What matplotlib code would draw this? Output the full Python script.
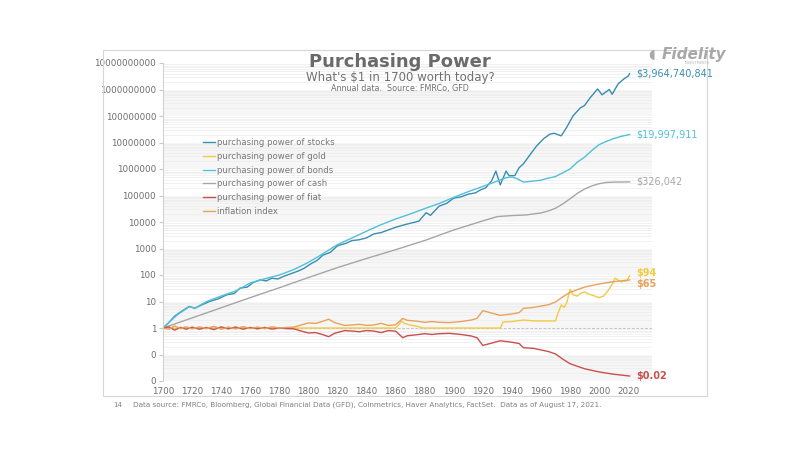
import matplotlib
matplotlib.use('Agg')
import matplotlib.pyplot as plt
from matplotlib.patches import Rectangle

# values (growth of $1 invested in 1700)
stocks_years = [1700, 1704, 1708, 1712, 1718, 1722, 1727, 1732, 1738, 1744, 1749, 1753,
                1758, 1762, 1767, 1771, 1775, 1779, 1783, 1788, 1793, 1797, 1801, 1806,
                1810, 1815, 1820, 1826, 1830, 1835, 1840, 1845, 1850, 1855, 1860, 1865,
                1870, 1876, 1881, 1884, 1890, 1895, 1900, 1905, 1910, 1915, 1918, 1922,
                1926, 1929, 1932, 1936, 1938, 1942, 1945, 1948, 1952, 1957, 1962, 1966,
                1969, 1974, 1978, 1982, 1987, 1990, 1994, 1999, 2002, 2007, 2009, 2013,
                2017, 2020, 2021]
stocks = [1, 1.6, 2.8, 4, 6.5, 5.6, 7.6, 10, 12.6, 18, 20, 32,
          35, 52, 66, 60, 76, 71, 89, 112, 141, 178, 251, 355,
          562, 708, 1259, 1585, 1995, 2138, 2512, 3548, 3981, 5012, 6310, 7586,
          8913, 10715, 22387, 17783, 39811, 50119, 79433, 89125, 112202, 125893, 158489, 194984,
          354813, 831764, 251189, 831764, 562341, 562341, 1122018, 1584893, 3162278, 7413102, 14125375, 20417379,
          22387211, 17782794, 39810717, 1.0e8, 2.0e8, 2.5e8, 5.0e8, 1.05e9, 6.3e8, 1.0e9, 6.6e8, 1.6e9,
          2.5e9, 3.2e9, 3964740841]

bonds_years = [1700, 1705, 1710, 1718, 1722, 1730, 1740, 1750, 1755, 1760, 1770, 1780,
               1790, 1800, 1810, 1820, 1830, 1840, 1850, 1860, 1870, 1880, 1890, 1900,
               1910, 1920, 1930, 1936, 1940, 1944, 1948, 1955, 1960, 1965, 1970, 1975,
               1980, 1985, 1990, 1995, 2000, 2005, 2010, 2015, 2021]
bonds = [1, 1.8, 3.2, 6.3, 5.6, 10, 16, 25, 35, 50, 72, 100,
         160, 300, 630, 1400, 2500, 4500, 7900, 13000, 20000, 32000, 50000, 85000,
         140000, 220000, 350000, 470000, 500000, 420000, 320000, 350000, 380000, 450000, 520000, 720000,
         1000000, 1800000, 2800000, 5000000, 8300000, 11000000, 14000000, 17000000, 19997911]

cash_years = [1700, 1720, 1740, 1760, 1780, 1800, 1820, 1840, 1860, 1880, 1900, 1920,
              1930, 1940, 1950, 1960, 1965, 1970, 1975, 1980, 1985, 1990, 1995, 2000,
              2005, 2010, 2015, 2021]
cash = [1, 2.4, 5.8, 14, 33, 80, 190, 420, 900, 2000, 5000, 11000,
        16000, 17500, 18500, 22000, 26000, 33000, 48000, 75000, 120000, 175000, 230000, 280000,
        310000, 320000, 322000, 326042]

gold_years = [1700, 1705, 1710, 1715, 1720, 1725, 1730, 1735, 1740, 1745, 1750, 1755,
              1760, 1765, 1770, 1775, 1780, 1860, 1862, 1864, 1866, 1870, 1875, 1879,
              1932, 1934, 1940, 1948, 1955, 1962, 1970, 1972, 1974, 1976, 1978, 1980,
              1982, 1985, 1987, 1990, 1993, 1997, 2000, 2003, 2006, 2009, 2011, 2013,
              2015, 2017, 2019, 2021]
gold = [1.0, 1.05, 0.95, 1.08, 0.97, 1.05, 0.95, 1.1, 0.95, 1.05, 0.97, 1.08,
        0.98, 1.05, 0.97, 1.08, 1.0, 1.0, 1.3, 1.8, 1.5, 1.3, 1.15, 1.0,
        1.0, 1.7, 1.75, 2.0, 1.85, 1.85, 1.85, 4.0, 7.4, 6.0, 10, 29,
        18, 16, 20, 23, 19, 16, 14, 16, 25, 45, 76, 65,
        55, 58, 60, 94]

infl_years = [1700, 1704, 1708, 1712, 1716, 1720, 1725, 1730, 1735, 1740, 1745, 1750,
              1755, 1760, 1765, 1770, 1775, 1780, 1785, 1790, 1795, 1800, 1805, 1810,
              1814, 1818, 1825, 1830, 1835, 1840, 1845, 1850, 1855, 1860, 1865, 1868,
              1875, 1880, 1885, 1890, 1897, 1905, 1912, 1916, 1920, 1925, 1932, 1940,
              1945, 1948, 1955, 1965, 1970, 1975, 1980, 1985, 1990, 2000, 2010, 2021]
inflation = [1.0, 0.9, 1.2, 0.95, 1.1, 0.93, 1.1, 0.95, 1.15, 0.9, 1.08, 0.92,
             1.12, 0.95, 1.08, 0.95, 1.1, 1.0, 1.05, 1.08, 1.3, 1.55, 1.5, 1.8,
             2.15, 1.6, 1.25, 1.3, 1.38, 1.25, 1.3, 1.5, 1.25, 1.32, 2.3, 1.95,
             1.8, 1.65, 1.75, 1.65, 1.6, 1.75, 2.0, 2.3, 4.5, 3.8, 3.0, 3.4,
             3.8, 5.5, 6.0, 7.5, 9.5, 15, 22, 28, 35, 46, 56, 65]
fiat = [1.0, 1.1, 0.83, 1.05, 0.9, 1.08, 0.9, 1.05, 0.87, 1.1, 0.93, 1.09,
        0.9, 1.05, 0.93, 1.05, 0.91, 1.0, 0.95, 0.93, 0.77, 0.65, 0.67, 0.56,
        0.47, 0.63, 0.8, 0.77, 0.72, 0.8, 0.77, 0.67, 0.8, 0.76, 0.43, 0.51,
        0.56, 0.61, 0.57, 0.61, 0.63, 0.57, 0.5, 0.43, 0.22, 0.26, 0.33, 0.29,
        0.26, 0.18, 0.17, 0.13, 0.105, 0.067, 0.045, 0.036, 0.029, 0.022, 0.018, 0.0154]

end_labels = ['$3,964,740,841', '$19,997,911', '$326,042', '$94', '$65', '$0.02']

c_stocks = '#3a8db0'
c_gold = '#f1cb45'
c_bonds = '#50c0d8'
c_cash = '#a6a6a6'
c_fiat = '#c9504f'
c_infl = '#e9a25c'

fig = plt.figure(figsize=(8.1, 4.5), dpi=100)
fig.patches.append(Rectangle((103/810, 1-396/450), 604/810, 346/450, transform=fig.transFigure,
                             fill=False, edgecolor='#d6d6d6', lw=0.8))

ax = fig.add_axes([163/810, 1-381/450, 489/810, 318/450])
ax.set_yscale('log')
ax.set_xlim(1700, 2036.4)
ax.set_ylim(0.01, 1e10)

# alternating background bands per decade
for k in range(-2, 10):
    if k % 2 == 0:
        ax.axhspan(10**k, 10**(k+1), color='#f6f6f6', lw=0, zorder=0)
ax.grid(True, which='minor', axis='y', color='#ececec', lw=0.5)
ax.grid(False, which='major', axis='x')
ax.set_axisbelow(True)

ax.axhline(1, color='#bdbdbd', lw=0.6, ls='--', zorder=1)

ax.plot(stocks_years, stocks, color=c_stocks, lw=1.0, label='purchasing power of stocks')
ax.plot(gold_years, gold, color=c_gold, lw=1.0, label='purchasing power of gold')
ax.plot(bonds_years, bonds, color=c_bonds, lw=1.0, label='purchasing power of bonds')
ax.plot(cash_years, cash, color=c_cash, lw=1.0, label='purchasing power of cash')
ax.plot(infl_years, fiat, color=c_fiat, lw=1.0, label='purchasing power of fiat')
ax.plot(infl_years, inflation, color=c_infl, lw=1.0, label='inflation index')

# labels at the end of each line
ends = [(stocks[-1], c_stocks, 0), (bonds[-1], c_bonds, 0), (cash[-1], c_cash, 0),
        (gold[-1], c_gold, 2), (inflation[-1], c_infl, -3), (fiat[-1], c_fiat, 0)]
for (val, col, dy), txt in zip(ends, end_labels):
    ax.annotate(txt, (2021, val), xytext=(5, dy), textcoords='offset points',
                color=col, fontsize=7, va='center', ha='left',
                fontweight='bold' if txt in ('$94', '$65', '$0.02') else 'normal')

yt = [10.0**k for k in range(-2, 11)]
ax.set_yticks(yt)
ax.set_yticklabels(['0', '0'] + [str(int(10**k)) for k in range(0, 11)])
ax.yaxis.set_minor_locator(matplotlib.ticker.LogLocator(base=10, subs=range(2, 10), numticks=100))
ax.yaxis.set_minor_formatter(matplotlib.ticker.NullFormatter())
ax.set_xticks(range(1700, 2021, 20))
ax.tick_params(axis='y', which='major', length=3, color='#c8c8c8', labelsize=6.3,
               labelcolor='#6e6e6e', pad=2)
ax.tick_params(axis='y', which='minor', length=0)
ax.tick_params(axis='x', length=0, labelsize=6.3, labelcolor='#6e6e6e', pad=4)
for s in ['top', 'right', 'bottom']:
    ax.spines[s].set_visible(False)
ax.spines['left'].set_color('#c8c8c8')
ax.spines['left'].set_linewidth(0.6)

leg = fig.legend(loc='upper left', bbox_to_anchor=(200/810, 1-135/450), frameon=False,
                 fontsize=6.1, handlelength=1.4, handletextpad=0.2, labelspacing=0.55,
                 borderaxespad=0)
for t in leg.get_texts():
    t.set_color('#777777')

# titles
fig.text(400/810, 1-62/450, 'Purchasing Power', ha='center', va='center',
         fontsize=13, fontweight='bold', color='#6a6a6a')
fig.text(400/810, 1-78/450, "What's $1 in 1700 worth today?", ha='center', va='center',
         fontsize=8.5, color='#707070')
fig.text(400/810, 1-89/450, 'Annual data.  Source: FMRCo, GFD', ha='center', va='center',
         fontsize=5.8, color='#707070')

# logo
fig.text(694/810, 1-54/450, 'Fidelity', ha='center', va='center', fontsize=11,
         fontweight='bold', style='italic', color='#a8a8a8')
fig.text(697/810, 1-63/450, 'INVESTMENTS', ha='center', va='center', fontsize=2.5,
         color='#b5b5b5')
fig.text(652/810, 1-54/450, '\u25d6', ha='center', va='center', fontsize=9, color='#a8a8a8')

# footnote
fig.text(113/810, 1-405/450, '14', ha='left', va='center', fontsize=5, color='#808080')
fig.text(133/810, 1-405/450,
         'Data source: FMRCo, Bloomberg, Global Financial Data (GFD), Coinmetrics, Haver Analytics, '
         'FactSet.  Data as of August 17, 2021.', ha='left', va='center', fontsize=5.2, color='#808080')

fig.savefig('out.png', dpi=100)
